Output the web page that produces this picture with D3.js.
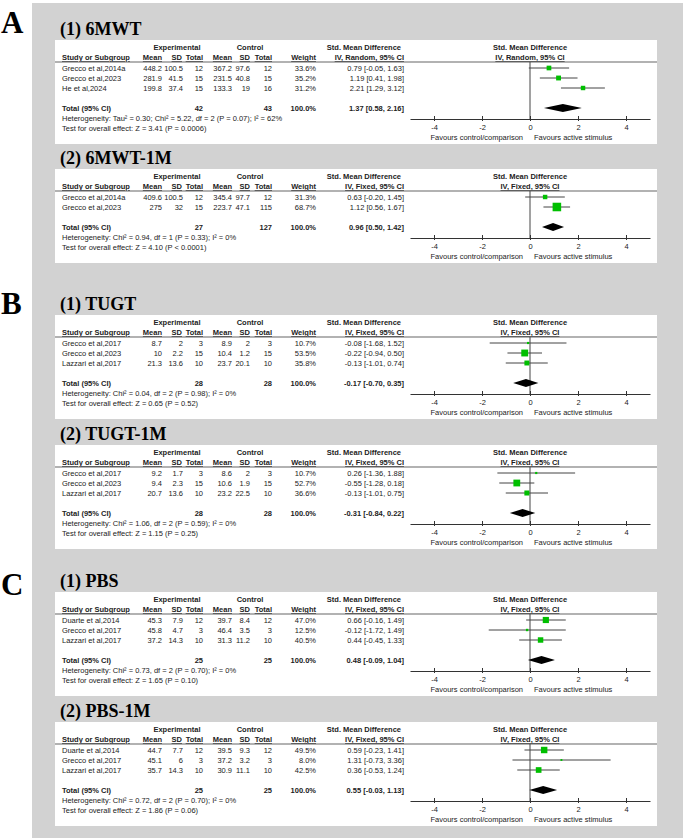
<!DOCTYPE html>
<html lang="en">
<head>
<meta charset="utf-8" />
<title>Forest plots</title>
<script src="https://d3js.org/d3.v7.min.js"></script>
<style>
  body { margin: 0; background: #fff; }
  svg { display: block; font-family: "Liberation Sans", Arial, sans-serif; }
  .hdr { font-weight: bold; }
  .ttl { font-family: "Liberation Serif", "Times New Roman", serif; font-weight: bold; }
</style>
</head>
<body>
<svg id="chart" width="685" height="840"></svg>
<script>
// ---- data ----
const sectionLetters = ["A", "B", "C"];
const panelTitles = ["(1) 6MWT", "(2) 6MWT-1M", "(1) TUGT", "(2) TUGT-1M", "(1) PBS", "(2) PBS-1M"];
const methods = ["IV, Random, 95% CI", "IV, Fixed, 95% CI", "IV, Fixed, 95% CI",
                 "IV, Fixed, 95% CI", "IV, Fixed, 95% CI", "IV, Fixed, 95% CI"];

const studies = [
  ["Grecco et al,2014a", "Grecco et al,2023", "He et al,2024"],
  ["Grecco et al,2014a", "Grecco et al,2023"],
  ["Grecco et al,2017", "Grecco et al,2023", "Lazzari et al,2017"],
  ["Grecco et al,2017", "Grecco et al,2023", "Lazzari et al,2017"],
  ["Duarte et al,2014", "Grecco et al,2017", "Lazzari et al,2017"],
  ["Duarte et al,2014", "Grecco et al,2017", "Lazzari et al,2017"]
];
const expMean = [["448.2", "281.9", "199.8"], ["409.6", "275"], ["8.7", "10", "21.3"],
                 ["9.2", "9.4", "20.7"], ["45.3", "45.8", "37.2"], ["44.7", "45.1", "35.7"]];
const expSD = [["100.5", "41.5", "37.4"], ["100.5", "32"], ["2", "2.2", "13.6"],
               ["1.7", "2.3", "13.6"], ["7.9", "4.7", "14.3"], ["7.7", "6", "14.3"]];
const expN = [[12, 15, 15], [12, 15], [3, 15, 10], [3, 15, 10], [12, 3, 10], [12, 3, 10]];
const ctlMean = [["367.2", "231.5", "133.3"], ["345.4", "223.7"], ["8.9", "10.4", "23.7"],
                 ["8.6", "10.6", "23.2"], ["39.7", "46.4", "31.3"], ["39.5", "37.2", "30.9"]];
const ctlSD = [["97.6", "40.8", "19"], ["97.7", "47.1"], ["2", "1.2", "20.1"],
               ["2", "1.9", "22.5"], ["8.4", "3.5", "11.2"], ["9.3", "3.2", "11.1"]];
const ctlN = [[12, 15, 16], [12, 115], [3, 15, 10], [3, 15, 10], [12, 3, 10], [12, 3, 10]];
const weights = [[33.6, 35.2, 31.2], [31.3, 68.7], [10.7, 53.5, 35.8],
                 [10.7, 52.7, 36.6], [47.0, 12.5, 40.5], [49.5, 8.0, 42.5]];
const smd = [[0.79, 1.19, 2.21], [0.63, 1.12], [-0.08, -0.22, -0.13],
             [0.26, -0.55, -0.13], [0.66, -0.12, 0.44], [0.59, 1.31, 0.36]];
const ciLow = [[-0.05, 0.41, 1.29], [-0.20, 0.56], [-1.68, -0.94, -1.01],
               [-1.36, -1.28, -1.01], [-0.16, -1.72, -0.45], [-0.23, -0.73, -0.53]];
const ciHigh = [[1.63, 1.98, 3.12], [1.45, 1.67], [1.52, 0.50, 0.74],
                [1.88, 0.18, 0.75], [1.49, 1.49, 1.33], [1.41, 3.36, 1.24]];

const totalExpN = [42, 27, 28, 28, 25, 25];
const totalCtlN = [43, 127, 28, 28, 25, 25];
const totalSmd = [1.37, 0.96, -0.17, -0.31, 0.48, 0.55];
const totalLow = [0.58, 0.50, -0.70, -0.84, -0.09, -0.03];
const totalHigh = [2.16, 1.42, 0.35, 0.22, 1.04, 1.13];

const heterogeneity = [
  "Heterogeneity: Tau² = 0.30; Chi² = 5.22, df = 2 (P = 0.07); I² = 62%",
  "Heterogeneity: Chi² = 0.94, df = 1 (P = 0.33); I² = 0%",
  "Heterogeneity: Chi² = 0.04, df = 2 (P = 0.98); I² = 0%",
  "Heterogeneity: Chi² = 1.06, df = 2 (P = 0.59); I² = 0%",
  "Heterogeneity: Chi² = 0.73, df = 2 (P = 0.70); I² = 0%",
  "Heterogeneity: Chi² = 0.72, df = 2 (P = 0.70); I² = 0%"
];
const overallTest = [
  "Test for overall effect: Z = 3.41 (P = 0.0006)",
  "Test for overall effect: Z = 4.10 (P < 0.0001)",
  "Test for overall effect: Z = 0.65 (P = 0.52)",
  "Test for overall effect: Z = 1.15 (P = 0.25)",
  "Test for overall effect: Z = 1.65 (P = 0.10)",
  "Test for overall effect: Z = 1.86 (P = 0.06)"
];
const tickValues = [-4, -2, 0, 2, 4];
const favourLeft = "Favours control/comparison";
const favourRight = "Favours active stimulus";

// ---- layout ----
var svg = d3.select("#chart");
var panelTop = [40, 169, 315, 445, 592, 722];
var letterY = [33, 314, 595];
var ink = "#222";
var green = "#00bf00";
var fs = "7.5px";

var x = d3.scaleLinear().domain([-5, 5]).range([410, 650]);
var sq = d3.scaleLinear().domain([0, 100]).range([1, 12]);

// column right edges for the table
var cols = { expMean: 162, expSD: 183, expN: 203, ctlMean: 232, ctlSD: 250, ctlN: 272, weight: 316, est: 404 };

// gray backdrop
svg.append("rect").attr("x", 32).attr("y", 3).attr("width", 651).attr("height", 835).attr("fill", "#d2d2d2");

sectionLetters.forEach(function (l, i) {
  svg.append("text").attr("class", "ttl").attr("x", 1).attr("y", letterY[i])
    .style("font-size", "31px").attr("fill", "#000").text(l);
});

function fmt(v) { return v.toFixed(2); }
function est(m, lo, hi) { return fmt(m) + " [" + fmt(lo) + ", " + fmt(hi) + "]"; }

panelTitles.forEach(function (title, p) {
  var T = panelTop[p];
  var n = studies[p].length;
  var rowY = function (i) { return T + 28 + 10 * i; };
  var totY = rowY(n - 1) + 20;
  var boxH = totY + 36 - T;
  var axisY = totY + 11;
  var ruleY = T + 22;

  var g = svg.append("g").style("font-size", fs).attr("fill", ink);

  svg.append("text").attr("class", "ttl").attr("x", 60).attr("y", T - 5)
    .style("font-size", "18px").attr("fill", "#000").text(title);

  g.append("rect").attr("x", 55).attr("y", T).attr("width", 602).attr("height", boxH).attr("fill", "#fff");

  // header row 1
  var h1 = T + 10;
  g.append("text").attr("class", "hdr").attr("x", 177).attr("y", h1).attr("text-anchor", "middle").text("Experimental");
  g.append("text").attr("class", "hdr").attr("x", 250).attr("y", h1).attr("text-anchor", "middle").text("Control");
  g.append("text").attr("class", "hdr").attr("x", 401).attr("y", h1).attr("text-anchor", "end").text("Std. Mean Difference");
  g.append("text").attr("class", "hdr").attr("x", x(0)).attr("y", h1).attr("text-anchor", "middle").text("Std. Mean Difference");

  // header row 2
  var h2 = T + 20;
  var hdr2 = [["Mean", cols.expMean], ["SD", cols.expSD - 1], ["Total", cols.expN], ["Mean", cols.ctlMean],
              ["SD", cols.ctlSD], ["Total", cols.ctlN], ["Weight", cols.weight], [methods[p], cols.est]];
  g.append("text").attr("class", "hdr").attr("x", 62).attr("y", h2)
    .style("text-decoration", "underline").text("Study or Subgroup");
  hdr2.forEach(function (h) {
    g.append("text").attr("class", "hdr").attr("x", h[1]).attr("y", h2).attr("text-anchor", "end")
      .style("text-decoration", "underline").text(h[0]);
  });
  g.append("text").attr("class", "hdr").attr("x", x(0)).attr("y", h2).attr("text-anchor", "middle")
    .style("text-decoration", "underline").text(methods[p]);

  g.append("line").attr("x1", 55).attr("x2", 657).attr("y1", ruleY).attr("y2", ruleY)
    .attr("stroke", "#666").attr("stroke-width", 1.2);

  // study rows
  studies[p].forEach(function (s, i) {
    var y = rowY(i) + 3;
    g.append("text").attr("x", 62).attr("y", y).text(s);
    var vals = [[expMean[p][i], cols.expMean], [expSD[p][i], cols.expSD], [expN[p][i], cols.expN],
                [ctlMean[p][i], cols.ctlMean], [ctlSD[p][i], cols.ctlSD], [ctlN[p][i], cols.ctlN],
                [weights[p][i].toFixed(1) + "%", cols.weight], [est(smd[p][i], ciLow[p][i], ciHigh[p][i]), cols.est]];
    vals.forEach(function (v) {
      g.append("text").attr("x", v[1]).attr("y", y).attr("text-anchor", "end").text(v[0]);
    });
  });

  // total rows
  var ty = totY + 3;
  g.append("text").attr("class", "hdr").attr("x", 62).attr("y", ty).text("Total (95% CI)");
  [[totalExpN[p], cols.expN], [totalCtlN[p], cols.ctlN], ["100.0%", cols.weight],
   [est(totalSmd[p], totalLow[p], totalHigh[p]), cols.est]].forEach(function (v) {
    g.append("text").attr("class", "hdr").attr("x", v[1]).attr("y", ty).attr("text-anchor", "end").text(v[0]);
  });
  g.append("text").attr("x", 62).attr("y", ty + 10).text(heterogeneity[p]);
  g.append("text").attr("x", 62).attr("y", ty + 20).text(overallTest[p]);

  // forest plot
  g.append("line").attr("x1", x(0)).attr("x2", x(0)).attr("y1", ruleY).attr("y2", axisY)
    .attr("stroke", "#444").attr("stroke-width", 1);

  studies[p].forEach(function (s, i) {
    var y = rowY(i);
    g.append("line").attr("x1", x(ciLow[p][i])).attr("x2", x(ciHigh[p][i]))
      .attr("y1", y).attr("y2", y).attr("stroke", "#444").attr("stroke-width", 1);
    var w = sq(weights[p][i]);
    g.append("rect").attr("x", x(smd[p][i]) - w / 2).attr("y", y - w / 2)
      .attr("width", w).attr("height", w).attr("fill", green);
  });

  var dm = [[x(totalLow[p]), totY], [x(totalSmd[p]), totY - 4], [x(totalHigh[p]), totY], [x(totalSmd[p]), totY + 4]];
  g.append("path").attr("d", d3.line()(dm) + "Z").attr("fill", "#000");

  var axis = g.append("g").attr("transform", "translate(0," + axisY + ")")
    .call(d3.axisBottom(x).tickValues(tickValues).tickFormat(function (d) { return String(d); })
      .tickSizeInner(5).tickSizeOuter(0).tickPadding(1));
  axis.select(".domain").attr("stroke", "#333");
  axis.selectAll(".tick line").attr("y1", -3).attr("y2", 2).attr("stroke", "#333");
  axis.selectAll(".tick text").style("font-size", fs).attr("fill", ink)
    .style("font-family", "Liberation Sans, Arial, sans-serif").attr("dy", "0.71em");

  g.append("text").attr("x", x(0) - 7).attr("y", axisY + 21).attr("text-anchor", "end").text(favourLeft);
  g.append("text").attr("x", x(0) + 4).attr("y", axisY + 21).text(favourRight);
});
</script>
</body>
</html>
